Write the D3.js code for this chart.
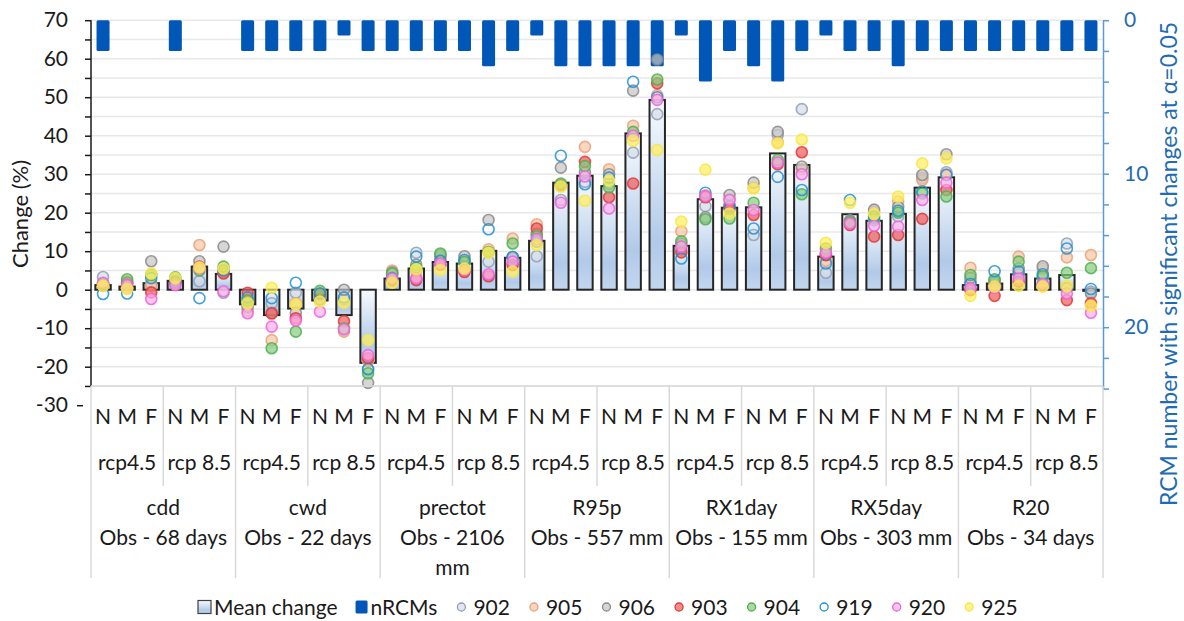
<!DOCTYPE html>
<html>
<head>
<meta charset="utf-8">
<script src="https://cdn.jsdelivr.net/npm/d3@7"></script>
<style>
  body { margin: 0; background: #fff; }
  svg text { font-family: Lato, "Open Sans", sans-serif; }
</style>
</head>
<body>
<svg id="chart" width="1184" height="621"></svg>
<script>
// ---- data ----
var indexNames = ["cdd", "cwd", "prectot", "R95p", "RX1day", "RX5day", "R20"];
var obsLabels = ["Obs - 68 days", "Obs - 22 days", "Obs - 2106 mm", "Obs - 557 mm",
                 "Obs - 155 mm", "Obs - 303 mm", "Obs - 34 days"];
var scenarios = ["rcp4.5", "rcp 8.5"];
var periods = ["N", "M", "F"];

// mean change (%) per index / scenario / period, in category order
var meanChange = [
   1.2,  0.8,  1.7,  2.3,  6.0,  4.1,
  -3.8, -6.6, -4.9, -2.8, -6.6, -19.0,
   2.9,  5.5,  7.2,  6.8, 10.1,  8.3,
  12.7, 27.8, 29.6, 26.9, 40.6, 49.3,
  11.4, 23.5, 21.3, 21.4, 35.4, 32.4,
   8.6, 19.6, 17.9, 19.7, 26.5, 29.2,
   1.2,  1.6,  4.0,  2.9,  3.8, -0.3
];

// number of RCMs with significant change
var nRCMs = [
  2, 0, 0, 2, 0, 0,
  2, 2, 2, 2, 1, 2,
  2, 2, 2, 2, 3, 2,
  1, 3, 3, 3, 3, 3,
  1, 4, 2, 3, 4, 2,
  1, 2, 2, 3, 2, 2,
  2, 2, 2, 2, 2, 2
];

var rcmIds = ["902", "905", "906", "903", "904", "919", "920", "925"];

var rcm902 = [3.3, 1.5, 1.5, 2.0, 2.2, -0.8, -4.0, -3.5, -0.8, -2.0, -2.5, -20.8,
  4.0, 9.6, 8.5, 7.0, 7.3, 8.0, 8.7, 23.3, 28.0, 27.5, 35.6, 45.6,
  10.5, 21.7, 22.0, 14.2, 40.2, 46.9, 4.4, 18.0, 18.0, 19.0, 29.0, 30.5,
  2.0, 2.5, 4.0, 3.0, 12.0, -0.5];
var rcm905 = [1.0, 0.5, 1.0, 1.5, 11.6, 4.5, -5.5, -13.1, -3.5, -1.5, -10.9, -18.5,
  5.0, 5.0, 8.0, 7.5, 10.5, 13.3, 17.0, 27.0, 37.1, 31.3, 42.6, 50.5,
  15.2, 24.5, 23.5, 26.5, 38.3, 31.3, 7.5, 17.5, 20.3, 22.9, 28.5, 30.0,
  5.7, 1.5, 8.6, 5.5, 8.4, 9.0];
var rcm906 = [1.5, 2.0, 7.4, 2.5, 7.4, 11.2, -4.5, -6.0, -6.0, -2.5, 0.0, -24.2,
  4.5, 6.5, 9.0, 8.7, 18.1, 8.5, 14.5, 31.7, 30.5, 30.0, 51.7, 59.8,
  12.0, 18.8, 24.6, 27.8, 41.0, 32.0, 9.0, 17.8, 20.8, 21.5, 29.8, 35.2,
  3.0, 2.0, 5.5, 6.1, 0.4, -1.0];
var rcm903 = [1.2, 1.8, -0.7, 1.8, 6.0, 4.2, -0.8, -6.2, -7.4, -1.0, -8.2, -17.8,
  2.5, 2.5, 6.5, 4.6, 3.5, 6.4, 15.9, 27.2, 33.2, 24.0, 27.6, 53.6,
  9.7, 24.0, 21.0, 19.4, 32.6, 35.7, 9.0, 16.8, 13.8, 14.2, 18.4, 25.9,
  -0.1, -1.6, 2.1, 1.2, -2.7, -3.5];
var rcm904 = [1.5, 2.7, 3.8, 3.2, 5.0, 6.0, -2.8, -15.2, -10.9, -0.3, -10.0, -21.7,
  4.2, 5.7, 9.4, 7.2, 9.8, 12.0, 13.9, 27.6, 32.1, 26.6, 41.0, 54.6,
  12.6, 18.3, 18.5, 22.6, 33.7, 24.8, 10.7, 17.5, 18.5, 20.0, 25.0, 24.2,
  3.8, 2.7, 7.3, 3.5, 4.4, 5.6];
var rcm919 = [-1.1, -1.0, 3.0, 2.0, -2.2, 5.0, -2.0, -2.2, 1.8, -1.0, -2.0, -20.6,
  3.0, 8.6, 7.5, 7.7, 15.7, 8.5, 12.5, 34.8, 27.4, 29.1, 54.0, 50.0,
  8.1, 25.2, 21.6, 15.9, 29.3, 25.9, 6.8, 23.3, 19.0, 20.5, 25.5, 29.8,
  1.5, 4.8, 4.7, 4.0, 10.7, 0.2];
var rcm920 = [1.8, 1.2, -2.4, 1.2, 5.5, -0.4, -6.1, -9.6, -8.0, -5.7, -10.3, -17.0,
  2.9, 3.0, 6.8, 5.1, 4.0, 7.3, 13.1, 22.6, 29.4, 21.1, 40.0, 49.3,
  11.2, 24.3, 23.3, 20.7, 33.0, 30.0, 9.6, 17.2, 16.6, 16.4, 23.3, 27.8,
  0.4, 0.5, 2.9, 1.5, -1.0, -6.0];
var rcm925 = [1.0, 0.2, 4.2, 3.0, 5.8, 5.5, -3.5, 0.5, -3.8, -3.1, -3.4, -13.1,
  1.8, 5.3, 5.1, 5.5, 9.6, 4.7, 11.6, 26.8, 23.1, 28.3, 38.7, 36.3,
  17.7, 31.2, 19.8, 26.3, 38.0, 39.0, 12.2, 22.6, 19.7, 24.2, 32.8, 34.1,
  -1.6, 0.8, 1.0, 0.8, 1.0, -4.2];

var rcmValues = [rcm902, rcm905, rcm906, rcm903, rcm904, rcm919, rcm920, rcm925];

// marker styles, same order as rcmIds
var rcmFill   = ["#d5dde8", "#f7c4a4", "#c4c4c4", "#f05a5a", "#86cc7e", "none", "#fbb0ec", "#fff05a"];
var rcmStroke = ["#8fa0b8", "#e8a27a", "#8a8a8a", "#e03a3a", "#4fb050", "#1e8fd5", "#f060dc", "#f8e54a"];

// ---- layout ----
var svg = d3.select("#chart");
var plotLeft = 91, plotRight = 1103;
var tableBottom = 578;

var categories = [];
indexNames.forEach(function(ind, g) {
  scenarios.forEach(function(sc, s) {
    periods.forEach(function(p, k) {
      categories.push({ key: ind + "|" + sc + "|" + p, index: g, scen: s, period: p });
    });
  });
});

var x = d3.scaleBand()
  .domain(categories.map(function(c) { return c.key; }))
  .range([plotLeft, plotRight]);
var bw = x.bandwidth();

var y = d3.scaleLinear().domain([-30, 70]).range([405.2, 20.2]);
var yR = d3.scaleLinear().domain([0, 24]).range([20.2, 388.6]);
var plotBottom = y(-25);

// gradient for the mean bars
var defs = svg.append("defs");
var grad = defs.append("linearGradient").attr("id", "meanGrad")
  .attr("x1", 0).attr("y1", 0).attr("x2", 0).attr("y2", 1);
grad.append("stop").attr("offset", "0%").attr("stop-color", "#f8fbfe");
grad.append("stop").attr("offset", "75%").attr("stop-color", "#b1cae9");
grad.append("stop").attr("offset", "100%").attr("stop-color", "#c3d6ef");

// gridlines every 5
svg.append("g").selectAll("line")
  .data(d3.range(-25, 71, 5))
  .enter().append("line")
  .attr("x1", plotLeft).attr("x2", plotRight)
  .attr("y1", function(d) { return y(d); })
  .attr("y2", function(d) { return y(d); })
  .attr("stroke", "#e8e8e8").attr("stroke-width", 1.5);

// nRCMs bars hanging from the top (right axis reversed)
var nw = bw * 0.54;
svg.append("g").selectAll("rect")
  .data(categories)
  .enter().append("rect")
  .attr("x", function(d) { return x(d.key) + (bw - nw) / 2; })
  .attr("y", yR(0))
  .attr("width", nw)
  .attr("height", function(d, i) { return yR(nRCMs[i]) - yR(0); })
  .attr("rx", 1.5)
  .attr("fill", "#0057b7");

// mean change bars
var mw = bw * 0.64;
svg.append("g").selectAll("rect")
  .data(categories)
  .enter().append("rect")
  .attr("x", function(d) { return x(d.key) + (bw - mw) / 2; })
  .attr("y", function(d, i) { return y(Math.max(0, meanChange[i])); })
  .attr("width", mw)
  .attr("height", function(d, i) { return Math.abs(y(meanChange[i]) - y(0)); })
  .attr("fill", "url(#meanGrad)")
  .attr("stroke", "#262626").attr("stroke-width", 2);

// RCM markers
rcmIds.forEach(function(id, r) {
  svg.append("g").attr("class", "rcm-" + id).selectAll("circle")
    .data(categories)
    .enter().append("circle")
    .attr("cx", function(d) { return x(d.key) + bw / 2; })
    .attr("cy", function(d, i) { return y(rcmValues[r][i]); })
    .attr("r", 5.5)
    .attr("fill", rcmFill[r])
    .attr("fill-opacity", 0.7)
    .attr("stroke", rcmStroke[r])
    .attr("stroke-width", 1.6)
    .attr("stroke-opacity", 0.85);
});

// left axis
var yAxis = d3.axisLeft(y)
  .tickValues(d3.range(-30, 71, 5))
  .tickSize(6)
  .tickPadding(17)
  .tickFormat(function(d) { return d % 10 === 0 ? d : ""; });
var gy = svg.append("g").attr("transform", "translate(" + plotLeft + ",0)").call(yAxis);
gy.select(".domain").remove();
gy.selectAll(".tick line").attr("stroke", "#1a1a1a").attr("stroke-width", 1.5);
gy.selectAll(".tick text").attr("font-size", 21).attr("fill", "#1a1a1a")
  .style("font-family", "Lato, sans-serif");
gy.selectAll(".tick").filter(function(d) { return d === -30; }).select("line")
  .attr("x1", -14).attr("x2", -8);
gy.append("line").attr("x1", 0).attr("x2", 0)
  .attr("y1", y(70)).attr("y2", plotBottom)
  .attr("stroke", "#1a1a1a").attr("stroke-width", 1.5);

// right axis
var yRAxis = d3.axisRight(yR)
  .tickValues(d3.range(0, 25, 2))
  .tickSize(6)
  .tickSizeOuter(0)
  .tickPadding(15)
  .tickFormat(function(d) { return d % 10 === 0 ? d : ""; });
var gr = svg.append("g").attr("transform", "translate(" + plotRight + ",0)").call(yRAxis);
gr.select(".domain").attr("stroke", "#5b9bd5").attr("stroke-width", 1.5);
gr.selectAll(".tick line").attr("stroke", "#5b9bd5").attr("stroke-width", 1.5);
gr.selectAll(".tick text").attr("font-size", 21).attr("fill", "#1f6cb3")
  .style("font-family", "Lato, sans-serif");

// axis titles
svg.append("text")
  .attr("transform", "translate(28," + 214 + ") rotate(-90)")
  .attr("text-anchor", "middle")
  .attr("font-size", 22).attr("fill", "#1a1a1a")
  .text("Change (%)");
svg.append("text")
  .attr("transform", "translate(1177," + 264 + ") rotate(-90)")
  .attr("text-anchor", "middle")
  .attr("font-size", 23).attr("fill", "#1f6cb3")
  .text("RCM number with significant changes at α=0.05");

// ---- multi-level category table ----
var table = svg.append("g");
var lineColor = "#d9d9d9";
table.append("line")
  .attr("x1", plotLeft).attr("x2", plotRight)
  .attr("y1", plotBottom).attr("y2", plotBottom)
  .attr("stroke", lineColor).attr("stroke-width", 1.5);

// period labels
table.selectAll("text.per")
  .data(categories)
  .enter().append("text").attr("class", "per")
  .attr("x", function(d) { return x(d.key) + bw / 2; })
  .attr("y", 424)
  .attr("text-anchor", "middle")
  .attr("font-size", 21).attr("fill", "#1a1a1a")
  .text(function(d) { return d.period; });

// scenario labels and separators
var scenCats = categories.filter(function(d) { return d.period === "M"; });
table.selectAll("text.scen")
  .data(scenCats)
  .enter().append("text").attr("class", "scen")
  .attr("x", function(d) { return x(d.key) + bw / 2; })
  .attr("y", 470)
  .attr("text-anchor", "middle")
  .attr("font-size", 21).attr("fill", "#1a1a1a")
  .text(function(d) { return scenarios[d.scen]; });

var scenSeps = categories.filter(function(d) { return d.period === "N" && d.scen === 1; });
table.selectAll("line.scen")
  .data(scenSeps)
  .enter().append("line").attr("class", "scen")
  .attr("x1", function(d) { return x(d.key); })
  .attr("x2", function(d) { return x(d.key); })
  .attr("y1", plotBottom).attr("y2", 486)
  .attr("stroke", lineColor).attr("stroke-width", 1.5);

var idxSeps = categories.filter(function(d) { return d.period === "N" && d.scen === 0; })
  .map(function(d) { return x(d.key); });
idxSeps.push(plotRight);
table.selectAll("line.idx")
  .data(idxSeps)
  .enter().append("line").attr("class", "idx")
  .attr("x1", function(d) { return d; })
  .attr("x2", function(d) { return d; })
  .attr("y1", plotBottom).attr("y2", tableBottom)
  .attr("stroke", lineColor).attr("stroke-width", 1.5);

// index names + obs labels (wrapped to the group width)
indexNames.forEach(function(name, g) {
  var cx = idxSeps[g] + (idxSeps[g + 1] - idxSeps[g]) / 2;
  var maxW = idxSeps[g + 1] - idxSeps[g] - 8;
  var t = table.append("text")
    .attr("x", cx).attr("y", 515)
    .attr("text-anchor", "middle")
    .attr("font-size", 21).attr("fill", "#1a1a1a");
  t.append("tspan").attr("x", cx).text(name);
  var words = obsLabels[g].split(" ");
  var line = [];
  var ts = t.append("tspan").attr("x", cx).attr("dy", 30);
  words.forEach(function(w) {
    line.push(w);
    ts.text(line.join(" "));
    if (ts.node().getComputedTextLength() > maxW && line.length > 1) {
      line.pop();
      ts.text(line.join(" "));
      line = [w];
      ts = t.append("tspan").attr("x", cx).attr("dy", 30).text(w);
    }
  });
});

// ---- legend ----
var legend = svg.append("g").attr("transform", "translate(0,607)");
var lx = 198;
function legendText(label) {
  var t = legend.append("text").attr("x", lx).attr("y", 7.5)
    .attr("font-size", 21).attr("fill", "#1a1a1a").text(label);
  lx += t.node().getComputedTextLength();
}
legend.append("rect").attr("x", lx).attr("y", -6.5).attr("width", 13).attr("height", 13)
  .attr("fill", "url(#meanGrad)").attr("stroke", "#404040").attr("stroke-width", 1.2);
lx += 16;
legendText("Mean change");
lx += 18;
legend.append("rect").attr("x", lx).attr("y", -6.5).attr("width", 12).attr("height", 13)
  .attr("rx", 1.5).attr("fill", "#0057b7");
lx += 15;
legendText("nRCMs");
rcmIds.forEach(function(id, r) {
  lx += 24;
  legend.append("circle").attr("cx", lx).attr("cy", 0).attr("r", 4)
    .attr("fill", rcmFill[r]).attr("fill-opacity", 0.7)
    .attr("stroke", rcmStroke[r]).attr("stroke-width", 1.3);
  lx += 12;
  legendText(id);
});
</script>
</body>
</html>
